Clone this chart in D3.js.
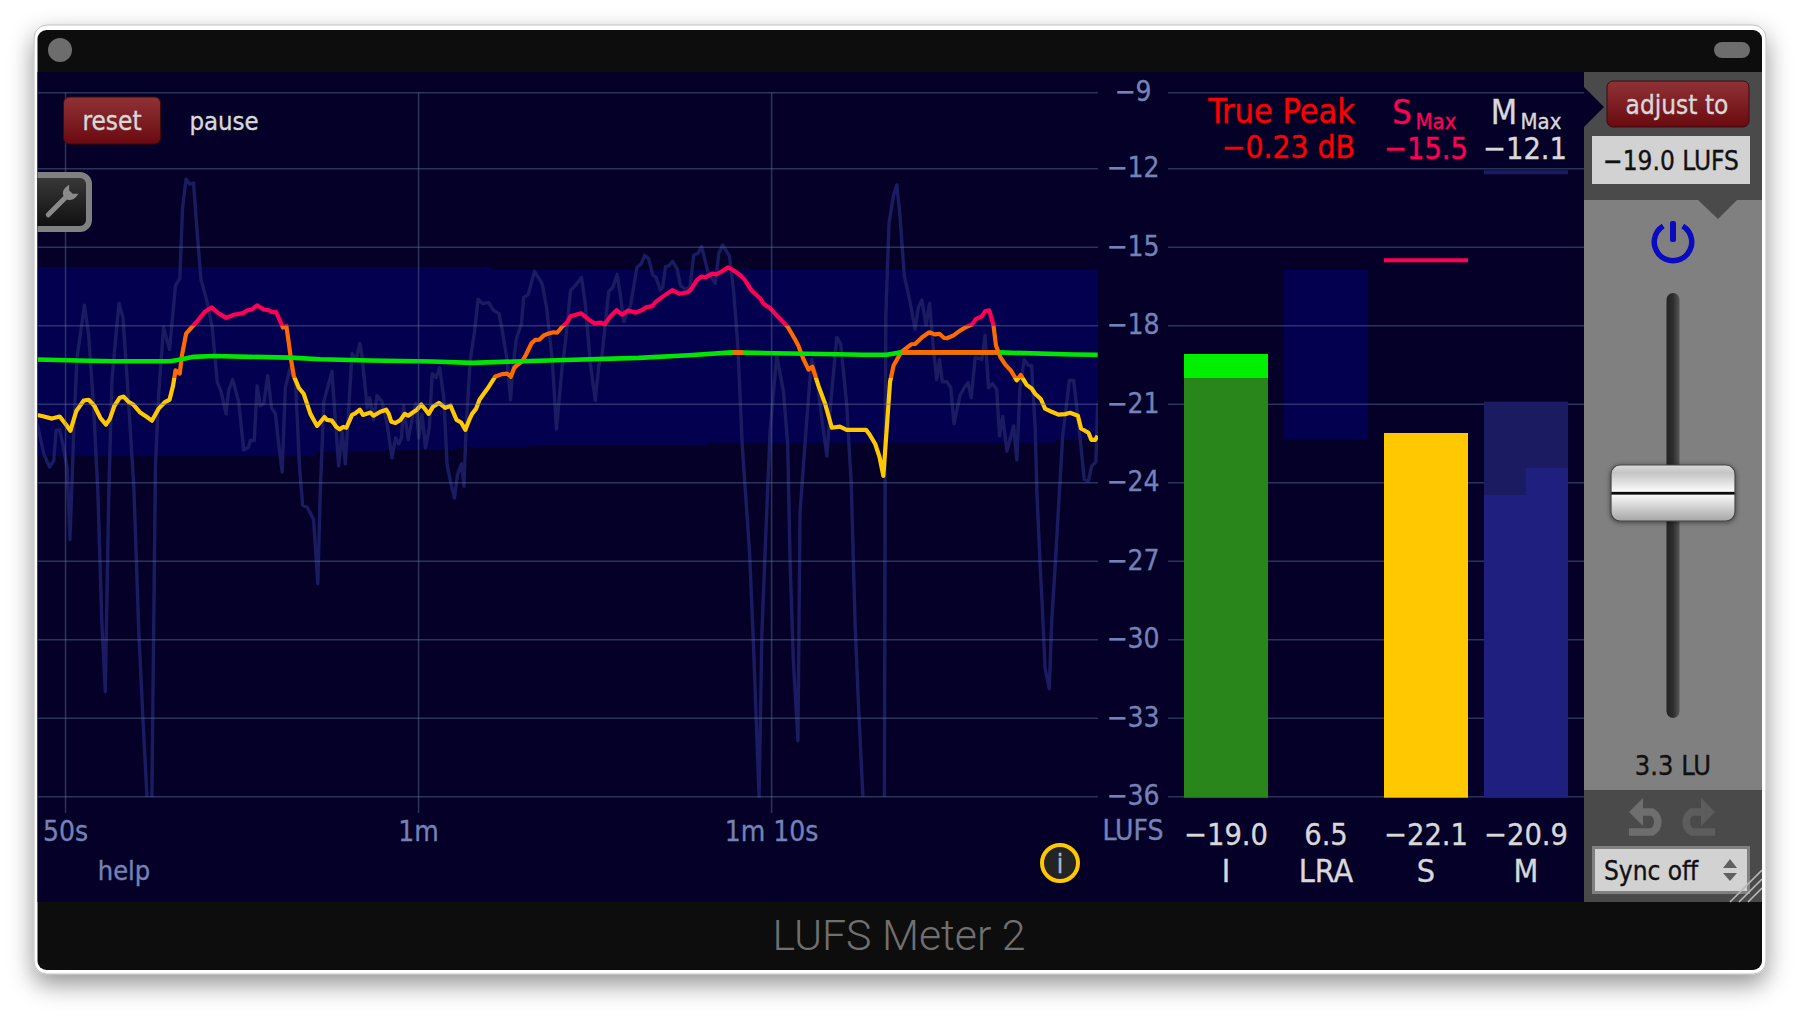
<!DOCTYPE html>
<html>
<head>
<meta charset="utf-8">
<title>LUFS Meter 2</title>
<script src="https://cdn.jsdelivr.net/npm/d3@7"></script>
<style>
  html, body { margin: 0; background: #fff; }
  svg { display: block; }
  text { font-family: "DejaVu Sans Condensed", "DejaVu Sans", sans-serif; font-stretch: condensed; }
  .axis .domain { display: none; }
  .axis text { fill: #7482b5; font-size: 28px; stroke: #7482b5; stroke-width: 0.3px; }
</style>
</head>
<body>
<svg id="chart" width="1800" height="1016"></svg>
<script>
// time axis, in seconds
const timeTicks = [50, 60, 70];
const timeLabels = ["50s", "1m", "1m 10s"];
const lufsTicks = [-9, -12, -15, -18, -21, -24, -27, -30, -33, -36];

// loudness range band behind the history
const bandTimes = [49.22, 57.1, 59.07, 61.08, 62.1, 63.12, 68.16, 78.07, 79.26];
const bandTop = [-15.76, -15.76, -15.76, -15.76, -15.87, -15.87, -15.87, -15.87, -15.87];
const bandBottom = [-22.98, -22.83, -22.75, -22.64, -22.64, -22.56, -22.47, -22.37, -22.37];

// momentary loudness (null = under the floor of the graph)
const momentaryTimes = [49.21,49.40,49.56,49.68,49.75,49.85,49.96,50.06,50.14,50.25,50.34,50.55,50.67,50.81,50.93,51.04,51.14,51.24,51.33,51.43,51.53,51.64,51.76,51.95,52.09,52.21,52.32,52.39,52.46,52.51,52.56,52.65,52.79,52.96,53.13,53.25,53.33,53.43,53.53,53.64,53.74,53.85,54.02,54.17,54.31,54.42,54.56,54.64,54.75,54.92,55.06,55.20,55.25,55.36,55.44,55.53,55.63,55.74,55.85,55.96,56.05,56.15,56.24,56.38,56.53,56.64,56.73,56.86,57.04,57.16,57.23,57.33,57.56,57.64,57.75,57.85,57.94,58.13,58.25,58.35,58.41,58.56,58.63,58.74,58.84,58.98,59.12,59.26,59.36,
  59.45,59.53,59.59,59.72,59.85,59.94,60.02,60.11,60.21,60.32,60.40,60.51,60.61,60.73,60.82,60.92,61.03,61.12,61.23,61.30,61.36,61.48,61.60,61.70,61.83,62.00,62.14,62.29,62.38,62.52,62.62,62.68,62.78,62.93,62.99,63.12,63.30,63.51,63.64,63.80,63.92,64.08,64.17,64.32,64.46,64.63,64.74,64.88,65.02,65.12,65.21,65.40,65.52,65.64,65.73,65.83,66.02,66.20,66.32,66.42,66.53,66.65,66.74,66.86,66.93,67.01,67.10,67.21,67.34,67.43,67.57,67.70,67.81,67.93,68.03,68.22,68.42,68.52,68.63,68.82,68.94,69.06,69.18,
  69.39,69.50,69.66,69.74,69.83,69.90,69.97,70.16,70.35,70.47,70.54,70.63,70.76,70.82,70.96,71.09,71.15,71.29,71.44,71.58,71.67,71.75,71.86,71.97,72.14,72.27,72.38,72.47,72.60,72.90,73.21,73.23,73.25,73.34,73.47,73.56,73.65,73.77,73.92,74.08,74.17,74.27,74.39,74.49,74.60,74.69,74.77,74.85,74.98,75.09,75.18,75.35,75.47,75.58,75.67,75.78,75.97,76.06,76.16,76.27,76.39,76.47,76.56,76.68,76.87,76.96,77.05,77.17,77.29,77.38,77.48,77.53,77.62,77.69,77.76,77.88,77.95,78.05,78.14,78.26,78.45,78.57,78.66,78.77,78.87,78.99,79.08,79.20,79.25];
const momentaryValues = [-21.75,-22.90,-23.40,-23.16,-21.98,-21.98,-22.67,-23.44,-26.17,-21.90,-19.22,-17.22,-18.37,-21.14,-24.36,-29.26,-31.99,-24.36,-20.06,-18.53,-17.15,-17.68,-20.06,-24.20,-29.72,-33.10,-36,null,-36,-29.72,-23.44,-20.67,-18.07,-18.91,-16.46,-16.20,-13.47,-12.39,-12.59,-12.55,-14.39,-16.23,-17.07,-18.07,-20.14,-20.52,-21.37,-20.45,-20.06,-20.91,-22.75,-22.64,-22.39,-22.39,-20.29,-21.06,-20.98,-19.91,-21.14,-21.37,-22.52,-23.59,-20.37,-19.60,-20.21,-23.36,-24.86,-24.94,-25.40,-27.85,-24.36,-20.91,-19.75,-21.29,-23.36,-22.05,-23.28,-19.06,-19.29,-18.68,-19.14,-21.14,-20.75,-21.60,-20.67,-20.91,-21.75,-23.05,-22.29,
  -22.52,-22.29,-21.06,-22.36,-21.44,-20.98,-22.29,-21.37,-22.67,-21.90,-19.83,-19.98,-19.60,-20.75,-23.28,-23.97,-24.59,-23.67,-23.28,-24.13,-21.90,-19.29,-18.22,-16.99,-17.15,-17.12,-17.42,-17.53,-18.14,-19.29,-20.83,-19.75,-18.53,-17.91,-16.92,-16.81,-15.92,-16.38,-17.30,-19.29,-21.95,-19.60,-18.68,-16.64,-16.46,-16.15,-17.22,-19.45,-20.86,-19.52,-19.14,-16.69,-16.53,-16.04,-16.84,-17.84,-17.22,-15.77,-15.64,-15.31,-15.43,-16.07,-16.15,-16.64,-16.53,-15.74,-15.71,-15.54,-15.84,-16.46,-16.61,-16.53,-15.31,-15.23,-14.97,-16.00,-16.38,-15.23,-14.92,-15.34,-16.69,-18.83,-22.52,
  -26.66,-30.18,-36,-29.72,-26.66,-24.36,-22.05,-19.14,-20.52,-22.52,-27.12,-30.80,-33.86,-25.12,-22.52,-20.21,-19.29,-19.91,-21.60,-22.98,-21.29,-20.06,-18.45,-18.68,-20.98,-24.05,-29.42,-32.33,-36,null,-36,-23.74,-17.61,-14.08,-13.01,-12.62,-13.77,-16.07,-16.99,-18.14,-17.30,-17.02,-17.99,-17.15,-18.91,-20.06,-19.29,-20.14,-20.14,-20.37,-21.75,-20.67,-20.37,-20.17,-20.75,-19.22,-19.29,-18.37,-20.37,-20.21,-20.44,-22.21,-21.47,-22.79,-21.83,-23.13,-20.37,-19.29,-19.52,-19.52,-21.90,-24.36,-27.12,-28.96,-31.10,-31.87,-29.26,-27.12,-24.97,-22.21,-20.09,-20.09,-21.14,-22.52,-23.87,-23.93,-23.36,-23.21,-20.98];

// short term loudness
const shortTimes = [49.21,49.40,49.63,49.85,50.01,50.15,50.32,50.53,50.67,50.83,51.00,51.16,51.27,51.40,51.55,51.66,51.80,51.93,52.13,52.32,52.46,52.65,52.84,52.96,53.06,53.13,53.25,53.31,53.43,53.60,53.74,53.95,54.15,54.35,54.56,54.78,55.04,55.17,55.30,55.44,55.63,55.77,55.86,55.98,56.10,56.17,56.27,56.34,56.40,56.48,56.62,56.76,56.95,57.14,57.35,57.42,57.56,57.68,57.78,57.88,57.97,58.13,58.22,58.35,58.44,58.65,58.74,58.93,59.10,
  59.17,59.24,59.36,59.50,59.62,59.72,59.88,59.97,60.09,60.21,60.30,60.42,60.59,60.77,60.92,61.09,61.22,61.34,61.44,61.53,61.64,61.74,61.86,62.00,62.19,62.38,62.52,62.63,62.73,62.83,62.95,63.06,63.21,63.32,63.44,63.56,63.70,63.84,63.94,64.08,64.22,64.32,64.46,64.62,64.83,64.99,65.16,65.29,65.45,65.62,65.78,65.95,66.16,66.33,66.46,66.63,66.75,66.96,67.20,67.41,67.64,67.73,67.90,68.03,68.14,68.33,68.45,68.61,68.78,68.94,69.13,
  69.26,69.45,69.69,69.78,69.97,70.21,70.47,70.68,70.77,70.92,71.06,71.17,71.34,71.53,71.72,71.95,72.14,72.69,72.80,72.95,73.07,73.18,73.37,73.47,73.68,73.81,73.97,74.08,74.27,74.48,74.63,74.77,74.90,74.98,75.17,75.35,75.54,75.69,75.80,75.97,76.06,76.18,76.30,76.37,76.49,76.63,76.79,76.96,77.07,77.24,77.38,77.48,77.64,77.76,77.95,78.14,78.33,78.47,78.69,78.78,78.99,79.07,79.18,79.25];
const shortValues = [-21.41,-21.47,-21.55,-21.47,-21.75,-22.02,-21.26,-20.86,-20.83,-21.06,-21.52,-21.78,-21.56,-21.06,-20.75,-20.71,-20.91,-21.01,-21.32,-21.49,-21.63,-21.17,-20.91,-20.83,-20.29,-19.71,-19.83,-19.14,-18.30,-18.04,-17.84,-17.48,-17.30,-17.53,-17.70,-17.58,-17.52,-17.41,-17.38,-17.22,-17.38,-17.41,-17.48,-17.48,-17.84,-18.07,-18.02,-18.68,-19.29,-19.91,-20.37,-20.60,-21.37,-21.83,-21.49,-21.60,-21.63,-21.86,-21.96,-21.87,-21.90,-21.41,-21.35,-21.21,-21.41,-21.32,-21.44,-21.29,-21.21,
  -21.37,-21.67,-21.72,-21.60,-21.37,-21.44,-21.29,-21.21,-21.01,-21.21,-21.37,-21.10,-20.95,-21.14,-21.06,-21.60,-21.70,-21.98,-21.63,-21.37,-21.18,-20.83,-20.60,-20.34,-19.94,-19.85,-19.83,-19.94,-19.60,-19.48,-19.37,-19.10,-18.68,-18.54,-18.53,-18.37,-18.30,-18.25,-18.27,-18.04,-17.88,-17.64,-17.58,-17.53,-17.76,-17.91,-17.88,-17.94,-17.64,-17.41,-17.58,-17.42,-17.50,-17.41,-17.30,-17.25,-17.07,-16.86,-16.64,-16.78,-16.72,-16.61,-16.26,-16.12,-16.15,-16.01,-16.04,-15.92,-15.77,-15.89,-16.07,
  -16.26,-16.66,-16.96,-17.15,-17.33,-17.68,-18.04,-18.53,-18.76,-19.29,-19.68,-19.57,-20.29,-20.98,-21.90,-21.86,-21.98,-21.98,-22.18,-22.52,-23.01,-23.74,-20.14,-19.52,-19.02,-18.88,-18.71,-18.70,-18.45,-18.25,-18.33,-18.31,-18.47,-18.48,-18.37,-18.19,-18.04,-17.96,-17.75,-17.64,-17.45,-17.41,-17.99,-18.76,-19.19,-19.48,-19.71,-20.09,-19.88,-20.26,-20.40,-20.60,-20.80,-21.17,-21.29,-21.40,-21.38,-21.33,-21.44,-21.93,-22.09,-22.36,-22.36,-22.21];

// integrated loudness
const integratedTimes = [49.21,50.34,51.38,52.98,53.27,53.64,54.21,55.25,56.38,57.23,58.65,60.40,61.53,62.95,64.17,66.25,67.67,68.90,70.07,71.48,72.62,73.28,73.68,76.44,78.56,79.25];
const integratedValues = [-19.29,-19.33,-19.36,-19.36,-19.29,-19.19,-19.16,-19.19,-19.22,-19.28,-19.33,-19.37,-19.42,-19.36,-19.31,-19.23,-19.13,-19.02,-19.05,-19.08,-19.11,-19.11,-19.02,-19.02,-19.10,-19.11];
const integratedHotRanges = [[68.91, 69.21], [73.68, 76.46]];

// meters on the right
const meterNames = ["I", "LRA", "S", "M"];
const meterReadouts = ["−19.0", "6.5", "−22.1", "−20.9"];
const integratedBar = -20.0;
const integratedValue = -19.08;
const lraHigh = -15.87;
const lraLow = -22.33;
const shortValue = -22.1;
const shortMax = -15.5;
const momentaryMax = -12.1;
const momentaryHold = -20.9;
const momentaryHalves = [-24.47, -23.44];

const colors = {
  back: "#050028", band: "#02004f", gridLine: "#6478a0",
  momentary: "#1a1b60", yellow: "#ffc800", orange: "#ff6a00", pink: "#ff0055", green: "#00e600",
  text: "#d8d8d8", panel: "#808080", panelDark: "#4a4a4a", bar: "#0d0d0d"
};

const svg = d3.select("#chart");
const defs = svg.append("defs");

const x = d3.scaleLinear().domain([49.22, 79.26]).range([37.5, 1098]);
// the top −9 line sits a touch closer to −12 than the rest of the scale
const y = d3.scaleLinear().domain([-9, -12, -36]).range([92.7, 168.7, 796.7]);

const addGradient = (id, stops, horizontal) => {
  const grad = defs.append("linearGradient").attr("id", id)
    .attr("x1", 0).attr("y1", 0).attr("x2", horizontal ? 1 : 0).attr("y2", horizontal ? 0 : 1);
  stops.forEach(s => grad.append("stop").attr("offset", s[0]).attr("stop-color", s[1]));
};
addGradient("redButton", [[0, "#8f3236"], [1, "#6a0a10"]]);
addGradient("wrenchBack", [[0, "#3a3a3a"], [1, "#0e0e0e"]]);
addGradient("track", [[0, "#222"], [0.5, "#2e2e2e"], [1, "#555"]], true);
addGradient("knob", [[0, "#dcdcdc"], [0.14, "#c4c4c4"], [0.47, "#fbfbfb"], [0.49, "#111"], [0.52, "#111"], [0.54, "#f8f8f8"], [0.85, "#c0c0c0"], [1, "#a6a6a6"]]);

const shadow = defs.append("filter").attr("id", "windowShadow")
  .attr("x", "-5%").attr("y", "-5%").attr("width", "110%").attr("height", "115%");
shadow.append("feDropShadow").attr("dx", 0).attr("dy", 10).attr("stdDeviation", 12)
  .attr("flood-color", "#000").attr("flood-opacity", 0.42);
const knobShadow = defs.append("filter").attr("id", "knobShadow")
  .attr("x", "-10%").attr("y", "-20%").attr("width", "120%").attr("height", "140%");
knobShadow.append("feDropShadow").attr("dx", 0).attr("dy", 1).attr("stdDeviation", 2.5)
  .attr("flood-color", "#000").attr("flood-opacity", 0.5);

defs.append("clipPath").attr("id", "plotClip").append("rect")
  .attr("x", x.range()[0]).attr("y", 72)
  .attr("width", x.range()[1] - x.range()[0]).attr("height", y(-36) - 72 + 1);
defs.append("clipPath").attr("id", "windowClip").append("rect")
  .attr("x", 37.5).attr("y", 30).attr("width", 1724.5).attr("height", 940).attr("rx", 9);

// short term colour follows the level
const shortGrad = defs.append("linearGradient").attr("id", "shortColor")
  .attr("gradientUnits", "userSpaceOnUse")
  .attr("x1", 0).attr("x2", 0).attr("y1", y(-9)).attr("y2", y(-36));
const levelOffset = v => (y(v) - y(-9)) / (y(-36) - y(-9));
[[0, colors.pink], [levelOffset(-18), colors.pink], [levelOffset(-18), colors.orange],
 [levelOffset(-20), colors.orange], [levelOffset(-20), colors.yellow], [1, colors.yellow]]
  .forEach(s => shortGrad.append("stop").attr("offset", s[0]).attr("stop-color", s[1]));

// window frame
svg.append("rect").attr("x", 34).attr("y", 25).attr("width", 1732).attr("height", 949).attr("rx", 13)
  .attr("fill", "#fff").attr("stroke", "#bdbdbd").attr("stroke-width", 1)
  .attr("filter", "url(#windowShadow)");

const win = svg.append("g").attr("clip-path", "url(#windowClip)");
win.append("rect").attr("x", 37).attr("y", 30).attr("width", 1726).attr("height", 940).attr("fill", colors.bar);
win.append("rect").attr("x", 37).attr("y", 72).attr("width", 1548).attr("height", 830).attr("fill", colors.back);

win.append("ellipse").attr("cx", 60).attr("cy", 50).attr("rx", 12).attr("ry", 12).attr("fill", "#6d6d6d");
win.append("rect").attr("x", 1714).attr("y", 42).attr("width", 36).attr("height", 16).attr("rx", 8).attr("fill", "#6d6d6d");
win.append("text").attr("x", 899).attr("y", 950).attr("text-anchor", "middle")
  .style("font-family", "Roboto, Lato, sans-serif").style("font-stretch", "normal").style("font-weight", 300)
  .style("font-size", "42.8px").attr("fill", "#707070").text("LUFS Meter 2");

// history band
const bandPoints = bandTimes.map((t, i) => ({ t, top: bandTop[i], bottom: bandBottom[i] }));
const plot = win.append("g").attr("clip-path", "url(#plotClip)");
plot.append("path").datum(bandPoints)
  .attr("fill", colors.band)
  .attr("d", d3.area().curve(d3.curveStepAfter).x(d => x(d.t)).y0(d => y(d.bottom)).y1(d => y(d.top)));

// meter LRA bar sits under the grid
const meterX = d3.scaleBand().domain(meterNames).range([1184, 1568]).paddingInner(0.16);
win.append("rect").attr("x", meterX("LRA")).attr("width", meterX.bandwidth())
  .attr("y", y(lraHigh)).attr("height", y(lraLow) - y(lraHigh)).attr("fill", colors.band);

// grid
const styleGrid = g => g.selectAll("line").attr("stroke", colors.gridLine)
  .attr("stroke-opacity", 0.42).attr("stroke-width", 1.5);
const gridAxis = (left, length) => win.append("g").attr("class", "axis")
  .attr("transform", `translate(${left},-0.5)`)
  .call(d3.axisRight(y).tickValues(lufsTicks).tickSize(length).tickFormat(""))
  .call(styleGrid);
gridAxis(x.range()[0], x.range()[1] - x.range()[0]);
gridAxis(1168, 416);

const timeAxis = d3.axisBottom(x).tickValues(timeTicks)
  .tickFormat((d, i) => timeLabels[i]).tickSize(y(-9) - 813).tickPadding(8);
win.append("g").attr("class", "axis").attr("transform", "translate(0,813)").call(timeAxis)
  .call(styleGrid);

win.append("g").attr("class", "axis").attr("transform", "translate(1133,-1)")
  .call(d3.axisLeft(y).tickValues(lufsTicks).tickSize(0).tickPadding(0).tickFormat(d => String(d).replace("-", "−")))
  .call(g => g.selectAll("text").attr("text-anchor", "middle"));

// history lines
const lineOf = (times, values) => d3.line().defined(i => values[i] !== null)
  .x(i => x(times[i])).y(i => y(values[i]))(d3.range(times.length));

plot.append("path").attr("d", lineOf(momentaryTimes, momentaryValues))
  .attr("fill", "none").attr("stroke", colors.momentary).attr("stroke-width", 3.4).attr("stroke-linejoin", "round");
plot.append("path").attr("d", lineOf(shortTimes, shortValues))
  .attr("fill", "none").attr("stroke", "url(#shortColor)").attr("stroke-width", 4.2).attr("stroke-linejoin", "round");
plot.append("path").attr("d", lineOf(integratedTimes, integratedValues))
  .attr("fill", "none").attr("stroke", colors.green).attr("stroke-width", 4.6).attr("stroke-linejoin", "round");

// integrated line turns orange while it sits inside these spans
const levelAt = d3.scaleLinear().domain(integratedTimes).range(integratedValues);
integratedHotRanges.forEach(r => {
  plot.append("path").attr("fill", "none").attr("stroke", colors.orange).attr("stroke-width", 4.6)
    .attr("d", d3.line()([[x(r[0]), y(levelAt(r[0]))], [x(r[1]), y(levelAt(r[1]))]]));
});

// bars
const bars = win.append("g");
const barRect = (name, top, bottom, fill) => bars.append("rect")
  .attr("x", meterX(name)).attr("width", meterX.bandwidth())
  .attr("y", y(top)).attr("height", y(bottom) - y(top)).attr("fill", fill);
barRect("I", integratedBar, -36, "#29861a").attr("height", y(-36) - y(integratedBar) + 1);
barRect("I", integratedValue, integratedBar, "#00f000");
barRect("S", shortValue, -36, "#ffc800").attr("height", y(-36) - y(shortValue) + 1);
barRect("S", shortMax, shortMax, colors.pink).attr("y", y(shortMax) - 2).attr("height", 4);
barRect("M", momentaryHold, -36, colors.momentary);
barRect("M", momentaryMax, momentaryMax, colors.momentary).attr("y", y(momentaryMax) - 1).attr("height", 4);
momentaryHalves.forEach((v, i) => bars.append("rect")
  .attr("x", meterX("M") + i * meterX.bandwidth() / 2).attr("width", meterX.bandwidth() / 2)
  .attr("y", y(v)).attr("height", y(-36) - y(v) + 1).attr("fill", "#1f1f7f"));

// labels
const label = (text, px, py, size, fill, anchor) => win.append("text")
  .attr("x", px).attr("y", py).attr("text-anchor", anchor || "middle")
  .attr("dominant-baseline", "central").style("font-size", size + "px")
  .attr("fill", fill).attr("stroke", fill).attr("stroke-width", 0.35).text(text);

label("LUFS", 1133, 830, 28, "#7482b5");
meterNames.forEach((name, i) => {
  const cx = meterX(name) + meterX.bandwidth() / 2;
  label(meterReadouts[i], cx, 834, 30.5, colors.text);
  label(name, cx, 871, 32, colors.text);
});
label("True Peak", 1355, 111, 34, "#ff0000", "end");
label("−0.23 dB", 1355, 147, 31.5, "#ff0000", "end");
label("S", 1402, 112, 34, colors.pink);
label("Max", 1436, 121, 22, colors.pink);
label("−15.5", 1426, 148, 30.5, colors.pink);
label("M", 1504, 112, 34, colors.text);
label("Max", 1541, 121, 22, colors.text);
label("−12.1", 1525, 148, 30.5, colors.text);
label("help", 124, 870, 27, "#7482b5");
label("pause", 224, 121, 25.5, colors.text);

// reset button
win.append("rect").attr("x", 63.5).attr("y", 97).attr("width", 97).attr("height", 47).attr("rx", 6)
  .attr("fill", "url(#redButton)").attr("stroke", "#3a0a10").attr("stroke-width", 1);
label("reset", 112, 121, 26, colors.text);

// wrench tab
win.append("rect").attr("x", 20).attr("y", 175).attr("width", 69).attr("height", 54).attr("rx", 9)
  .attr("fill", "url(#wrenchBack)").attr("stroke", colors.panel).attr("stroke-width", 6);
win.append("path").attr("transform", "translate(61,202) rotate(45)")
  .attr("fill", "#8a8a8a")
  .attr("d", "M-2.5,18 a2.5,2.5 0 0 0 5,0 L2.5,-6 C7,-8 8,-13 6.5,-18 L2.5,-14 L-2.5,-14 L-6.5,-18 C-8,-13 -7,-8 -2.5,-6 Z");

// info badge
win.append("circle").attr("cx", 1060).attr("cy", 863).attr("r", 18).attr("fill", "#242424")
  .attr("stroke", colors.yellow).attr("stroke-width", 4);
label("i", 1060, 864, 26, "#aeb8cc");

// control panel
const panel = win.append("g");
panel.append("rect").attr("x", 1584).attr("y", 72).attr("width", 180).attr("height", 830).attr("fill", colors.panelDark);
panel.append("rect").attr("x", 1584).attr("y", 200).attr("width", 180).attr("height", 590).attr("fill", colors.panel);
panel.append("path").attr("fill", colors.back).attr("d", "M1584,87 L1604,107 L1584,127 Z");
panel.append("path").attr("fill", colors.panelDark).attr("d", "M1698,200 L1737,200 L1718,219 Z");

panel.append("rect").attr("x", 1607).attr("y", 81).attr("width", 142).attr("height", 46).attr("rx", 6)
  .attr("fill", "url(#redButton)").attr("stroke", "#3a0a10").attr("stroke-width", 1);
label("adjust to", 1677, 105, 26, colors.text);
panel.append("rect").attr("x", 1592).attr("y", 136).attr("width", 158).attr("height", 48).attr("fill", "#d2d2d2");
label("−19.0 LUFS", 1671, 161, 26, "#111");

// power icon
panel.append("path").attr("transform", "translate(1673,242)").attr("fill", "#0a0ac0")
  .attr("d", d3.arc().innerRadius(16).outerRadius(21.5).startAngle(0.55).endAngle(2 * Math.PI - 0.55)());
panel.append("rect").attr("x", 1670).attr("y", 221).attr("width", 6).attr("height", 21).attr("rx", 2).attr("fill", "#0a0ac0");

// fader
panel.append("rect").attr("x", 1666.5).attr("y", 293).attr("width", 13).attr("height", 425).attr("rx", 6.5).attr("fill", "url(#track)");
panel.append("rect").attr("x", 1611).attr("y", 465).attr("width", 124).attr("height", 56).attr("rx", 9)
  .attr("fill", "url(#knob)").attr("stroke", "#444").attr("stroke-width", 1.2).attr("filter", "url(#knobShadow)");
label("3.3 LU", 1673, 765, 27, "#111");

// undo / redo
const arrow = (transform, tone) => panel.append("g").attr("transform", transform).call(g => {
  g.append("path").attr("fill", "none").attr("stroke", tone).attr("stroke-width", 7.5)
    .attr("d", "M10,14 H23 A11.5,11.5 0 0 1 23,34 H0");
  g.append("path").attr("fill", tone).attr("d", "M0,14 L14,0 V28 Z");
});
arrow("translate(1629,798)", "#6e6e6e");
arrow("translate(1715,798) scale(-1,1)", "#5d5d5d");

// sync selector
panel.append("rect").attr("x", 1593.5).attr("y", 847.5).attr("width", 155).attr("height", 45)
  .attr("fill", "#d2d2d2").attr("stroke", colors.panel).attr("stroke-width", 3);
label("Sync off", 1604, 871, 26, "#111", "start");
panel.append("path").attr("fill", "#606060").attr("d", "M1730,859 L1737,868 L1723,868 Z M1730,881 L1737,873 L1723,873 Z");

// resize corner
const hatch = panel.append("g").attr("stroke", "#b8b8b8").attr("stroke-width", 1.6);
[0, 9, 18].forEach(o => hatch.append("line")
  .attr("x1", 1730 + o).attr("y1", 902).attr("x2", 1762).attr("y2", 870 + o));
</script>
</body>
</html>
